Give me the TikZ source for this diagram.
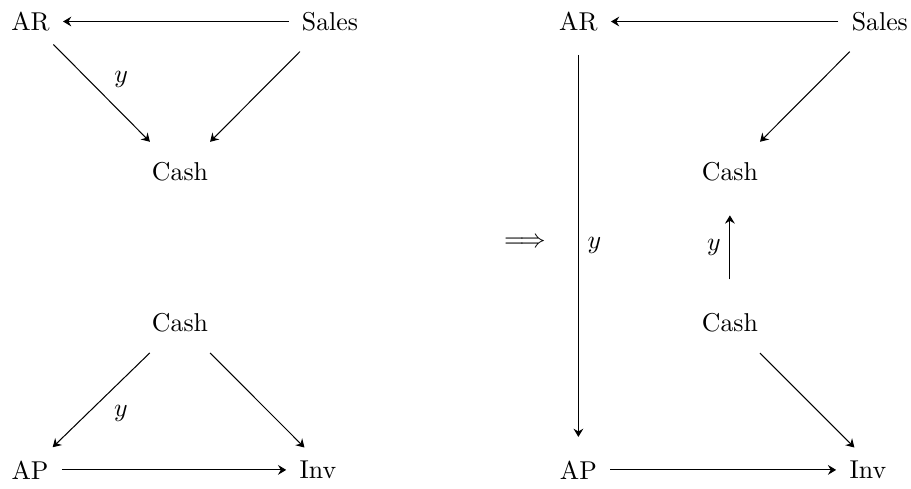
\documentclass[tikz,border=0pt]{standalone}
\usepackage{amsmath}
\usepackage{tikz}
\usetikzlibrary{arrows.meta, positioning}

\begin{document}
\begin{tikzpicture}[
        acct/.style={inner sep=5pt},
        arrow/.style={-{Stealth[length=3.2pt, width=3.8pt, inset=1.1pt]}},
        short/.style={shorten <=8pt, shorten >=8pt}
    ]
    \useasboundingbox (0,0) rectangle (12.41,6.66);

    % Nodes (before)
    \node[acct] (arL) at (0.415,6.367) {AR};
    \node[acct] (salesL) at (4.495,6.367) {Sales};
    \node[acct] (cashLa) at (2.452,4.318) {Cash};
    \node[acct] (cashLb) at (2.452,2.261) {Cash};
    \node[acct] (apL) at (0.409,0.259) {AP};
    \node[acct] (invL) at (4.331,0.259) {Inv};

    \node (impl) at (7.151,3.351) {$\Longrightarrow$};

    % Nodes (after)
    \node[acct] (arR) at (7.879,6.367) {AR};
    \node[acct] (salesR) at (11.986,6.367) {Sales};
    \node[acct] (cashRa) at (9.943,4.318) {Cash};
    \node[acct] (cashRb) at (9.943,2.261) {Cash};
    \node[acct] (apR) at (7.879,0.259) {AP};
    \node[acct] (invR) at (11.822,0.259) {Inv};

    % Arrows (before)
    \draw[arrow] (salesL) -- (arL);
    \draw[arrow, shorten >=4pt] (arL.-45) -- node[above right] {$y$} (cashLa.135);
    \draw[arrow, shorten <=4pt, shorten >=4pt] (salesL.-135) -- (cashLa.45);
    \draw[arrow, shorten <=4pt] (cashLb.-135) -- node[below right] {$y$} (apL.45);
    \draw[arrow, shorten <=4pt] (cashLb.-45) -- (invL.121);
    \draw[arrow] (apL) -- (invL);

    % Arrows (after)
    \draw[arrow] (salesR) -- (arR);
    \draw[arrow, shorten <=4pt, shorten >=4pt] (arR) -- node[right] {$y$} (apR);
    \draw[arrow, shorten <=4pt, shorten >=4pt] (salesR.-135) -- (cashRa.45);
    \draw[arrow, short] (cashRb) -- node[left] {$y$} (cashRa);
    \draw[arrow, shorten <=4pt] (cashRb.-45) -- (invR.121);
    \draw[arrow] (apR) -- (invR);

\end{tikzpicture}
\end{document}
